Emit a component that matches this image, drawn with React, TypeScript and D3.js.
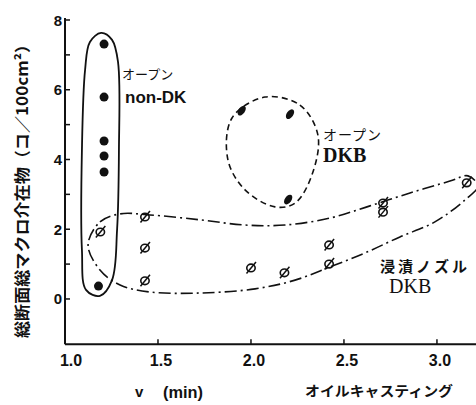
import * as d3 from "d3";

// filled dots: open pour, non-DK nozzle
const nonDkX = [1.21, 1.21, 1.21, 1.21, 1.21, 1.18];
const nonDkY = [7.31, 5.79, 4.53, 4.1, 3.64, 0.37];

// open pour DKB (pointed filled markers)
const openDkbX = [1.95, 2.21, 2.2];
const openDkbY = [5.4, 5.3, 2.85];

// immersion nozzle DKB ("ø" markers)
const nozzleX = [1.19, 1.43, 1.43, 1.43, 2.0, 2.18, 2.42, 2.42, 2.71, 2.71, 3.16];
const nozzleY = [1.92, 2.35, 1.46, 0.52, 0.89, 0.75, 1.55, 1.0, 2.75, 2.49, 3.33];

// group outlines, in data units
const loopNonDk: [number, number][] = [
  [1.194, 7.63], [1.253, 7.43], [1.285, 6.8], [1.29, 4.27], [1.28, 1.98],
  [1.253, 0.54], [1.188, 0.09], [1.113, 0.26], [1.091, 1.41], [1.091, 4.27],
  [1.108, 6.57], [1.134, 7.37],
];
const loopOpenDkb: [number, number][] = [
  [2.075, 5.79], [2.263, 5.56], [2.36, 4.7], [2.328, 3.56], [2.237, 2.75],
  [2.129, 2.64], [1.968, 3.13], [1.876, 3.99], [1.898, 5.19],
];
const loopNozzle: [number, number][] = [
  [1.124, 1.55], [1.188, 2.21], [1.296, 2.44], [1.457, 2.41], [1.726, 2.27],
  [1.968, 2.12], [2.183, 2.12], [2.425, 2.32], [2.64, 2.67], [2.855, 3.04],
  [3.07, 3.38], [3.167, 3.53], [3.22, 3.24], [3.151, 2.84], [2.989, 2.21],
  [2.801, 1.78], [2.613, 1.32], [2.425, 0.92], [2.237, 0.54], [2.022, 0.29],
  [1.726, 0.17], [1.457, 0.2], [1.296, 0.4], [1.188, 0.83],
];

const xTicks = [1.0, 1.5, 2.0, 2.5, 3.0];
const yTicks = [0, 1, 2, 3, 4, 5, 6, 7, 8];
const yLabels = [0, 2, 4, 6, 8];

const W = 476;
const H = 405;
const sans = "'Liberation Sans', Arial, sans-serif";
const serif = "'Liberation Serif', 'Times New Roman', serif";
const jp = "'Noto Sans CJK JP', sans-serif";

export default function App() {
  const x = d3.scaleLinear().domain([1.0, 3.21]).range([65, 476]);
  const y = d3.scaleLinear().domain([-1.3, 8]).range([344.3, 20]);

  const loop = d3
    .line<[number, number]>()
    .x((d) => x(d[0]))
    .y((d) => y(d[1]))
    .curve(d3.curveCatmullRomClosed.alpha(0.5));

  const ink = "#111";

  return (
    <svg
      width={W}
      height={H}
      style={{ position: "absolute", left: 0, top: 0, background: "#fff" }}
    >
      {/* axes */}
      <line x1={x(1)} x2={x(1)} y1={18} y2={y(-1.3)} stroke={ink} strokeWidth={2} />
      <line x1={x(1)} x2={W} y1={y(-1.3)} y2={y(-1.3)} stroke={ink} strokeWidth={2} />

      {yTicks.map((t) => (
        <line key={t} x1={x(1)} x2={x(1) + 5} y1={y(t)} y2={y(t)} stroke={ink} strokeWidth={1.5} />
      ))}
      {yLabels.map((t) => (
        <text
          key={t}
          x={x(1) - 3}
          y={y(t) + 5.5}
          textAnchor="end"
          fontFamily={sans}
          fontWeight="bold"
          fontSize={15}
          fill={ink}
        >
          {t}
        </text>
      ))}

      {xTicks.slice(1).map((t) => (
        <line key={t} x1={x(t)} x2={x(t)} y1={y(-1.3)} y2={y(-1.3) - 5} stroke={ink} strokeWidth={1.5} />
      ))}
      {xTicks.map((t) => (
        <text
          key={t}
          x={x(t) + (t === 1 ? 6 : 3)}
          y={366}
          textAnchor="middle"
          fontFamily={sans}
          fontWeight="bold"
          fontSize={16}
          fill={ink}
        >
          {t.toFixed(1)}
        </text>
      ))}

      {/* axis titles */}
      <text
        transform="translate(28,187) rotate(-90)"
        textAnchor="middle"
        fontFamily={jp}
        fontWeight="bold"
        fontSize={16}
        textLength={302}
        lengthAdjust="spacingAndGlyphs"
        fill={ink}
      >
        総断面総マクロ介在物（コ／100cm²）
      </text>
      <text x={135} y={397} fontFamily={sans} fontWeight="bold" fontSize={15} fill={ink}>
        v
      </text>
      <text
        x={163}
        y={398}
        fontFamily={sans}
        fontWeight="bold"
        fontSize={16}
        textLength={40}
        lengthAdjust="spacingAndGlyphs"
        fill={ink}
      >
        (min)
      </text>
      <text
        x={305}
        y={396}
        fontFamily={jp}
        fontWeight="bold"
        fontSize={14}
        textLength={148}
        lengthAdjust="spacingAndGlyphs"
        fill={ink}
      >
        オイルキャスティング
      </text>

      {/* group outlines */}
      <path d={loop(loopNonDk) ?? ""} fill="none" stroke={ink} strokeWidth={1.8} />
      <path d={loop(loopOpenDkb) ?? ""} fill="none" stroke={ink} strokeWidth={1.6} strokeDasharray="6,4" />
      <path d={loop(loopNozzle) ?? ""} fill="none" stroke={ink} strokeWidth={1.6} strokeDasharray="12,4,2,4" />

      {/* points */}
      {nonDkX.map((v, i) => (
        <circle key={i} cx={x(v)} cy={y(nonDkY[i])} r={4.5} fill={ink} />
      ))}
      {openDkbX.map((v, i) => (
        <ellipse
          key={i}
          rx={3.3}
          ry={5.5}
          transform={`translate(${x(v)},${y(openDkbY[i])}) rotate(35)`}
          fill={ink}
        />
      ))}
      {nozzleX.map((v, i) => (
        <g key={i} transform={`translate(${x(v)},${y(nozzleY[i])})`}>
          <ellipse rx={4.2} ry={3.8} fill="none" stroke={ink} strokeWidth={1.6} />
          <line x1={-4.5} y1={5.5} x2={5} y2={-6} stroke={ink} strokeWidth={1.5} />
        </g>
      ))}

      {/* group labels */}
      <text x={122} y={79} fontFamily={jp} fontSize={13} fill={ink}>
        オープン
      </text>
      <text x={125} y={103} fontFamily={sans} fontWeight="bold" fontSize={17} fill={ink}>
        non-DK
      </text>
      <text x={323} y={140} fontFamily={jp} fontSize={14} textLength={58} fill={ink}>
        オープン
      </text>
      <text x={323} y={162} fontFamily={serif} fontWeight="bold" fontSize={20} fill={ink}>
        DKB
      </text>
      <text x={380} y={272} fontFamily={jp} fontWeight="bold" fontSize={15} textLength={87} fill={ink}>
        浸漬ノズル
      </text>
      <text x={389} y={293} fontFamily={serif} fontSize={20} fill={ink}>
        DKB
      </text>
    </svg>
  );
}
